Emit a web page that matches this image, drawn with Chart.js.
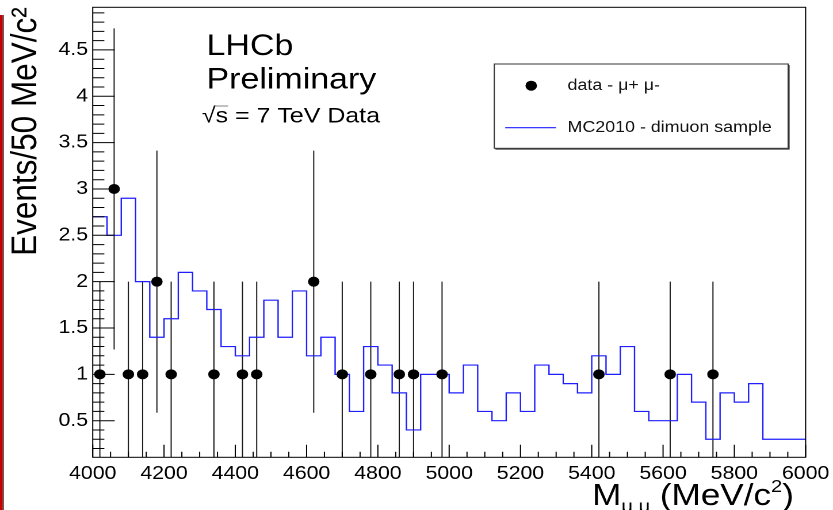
<!DOCTYPE html>
<html><head><meta charset="utf-8">
<script src="https://cdn.jsdelivr.net/npm/chart.js@4.4.0/dist/chart.umd.min.js"></script>
<style>
html,body{margin:0;padding:0;background:#fff;overflow:hidden;width:833px;height:510px;}
#wrap{position:absolute;left:0;top:0;width:724px;height:510px;transform:scaleX(1.150552);transform-origin:0 0;}
</style></head><body>
<div id="wrap"><canvas id="c"></canvas></div>
<script>
// ---- data ----
const binStart = 4000;
const binWidth = 40;
const mcValues = [2.7,2.5,2.9,2.0,1.4,1.6,2.1,1.9,1.7,1.3,
                  1.2,1.4,1.8,1.4,1.9,1.2,1.4,1.0,0.6,1.3,
                  1.1,0.8,0.4,1.0,1.0,0.8,1.1,0.6,0.5,0.8,
                  0.6,1.1,1.0,0.9,0.8,1.2,1.0,1.3,0.6,0.5,
                  0.5,1.0,0.7,0.3,0.8,0.7,0.9,0.3,0.3,0.3];
const dataMass   = [4020,4060,4100,4140,4180,4220,4340,4420,4460,4620,4700,4780,4860,4900,4980,5420,5620,5740];
const dataEvents = [1,3,1,1,2,1,1,1,1,2,1,1,1,1,1,1,1,1];
const dataErr    = [1,1.732,1,1,1.414,1,1,1,1,1.414,1,1,1,1,1,1,1,1];
const xTickValues = [4000,4200,4400,4600,4800,5000,5200,5400,5600,5800,6000];
const xTickLabels = ['4000','4200','4400','4600','4800','5000','5200','5400','5600','5800','6000'];
const yTickValues = [0.5,1,1.5,2,2.5,3,3.5,4,4.5];
const yTickLabels = ['0.5','1','1.5','2','2.5','3','3.5','4','4.5'];
const xRange = [4000, 6000];
const yRange = [0.105, 4.96];
const seriesLabels = ['data - \u03bc+ \u03bc-', 'MC2010 - dimuon sample'];

// ---- build ----
const mcEdges = mcValues.map((v,i)=>binStart + i*binWidth).concat([binStart + mcValues.length*binWidth]);
const mcPoints = mcEdges.map((x,i)=>({x:x, y:mcValues[Math.min(i, mcValues.length-1)]}));
const dataPoints = dataMass.map((m,i)=>({x:m, y:dataEvents[i]}));

const FONT = "'Liberation Sans', Arial, Helvetica, sans-serif";

const rootPlugin = {
  id:'rootStyle',
  beforeDatasetsDraw(chart){
    const ctx = chart.ctx, a = chart.chartArea, xs = chart.scales.x, ys = chart.scales.y;
    ctx.save();
    ctx.beginPath(); ctx.rect(a.left, a.top, a.right-a.left, a.bottom-a.top); ctx.clip();
    ctx.strokeStyle = '#1a1a1a'; ctx.lineWidth = 1;
    dataMass.forEach((m,i)=>{
      const px = xs.getPixelForValue(m);
      const y1 = ys.getPixelForValue(dataEvents[i]+dataErr[i]);
      const y0 = ys.getPixelForValue(Math.max(dataEvents[i]-dataErr[i], yRange[0]));
      ctx.beginPath(); ctx.moveTo(px, y0); ctx.lineTo(px, y1); ctx.stroke();
    });
    ctx.restore();
  },
  afterDraw(chart){
    const ctx = chart.ctx, a = chart.chartArea, xs = chart.scales.x, ys = chart.scales.y;
    ctx.save();
    // red strip at left edge
    ctx.fillStyle = '#c80000'; ctx.fillRect(0, 15, 2.3, 495);
    ctx.fillStyle = '#2a0000'; ctx.fillRect(2.3, 15, 0.9, 495);
    // frame
    ctx.strokeStyle = '#000'; ctx.lineWidth = 1;
    ctx.strokeRect(a.left, a.top, a.right-a.left, a.bottom-a.top);
    // y ticks (inside)
    ctx.beginPath();
    for (let k=1; k<50; k++){
      const v = k/10;
      if (v < yRange[0] || v > yRange[1]) continue;
      const py = ys.getPixelForValue(v);
      const len = (k%5===0) ? 19.1 : 10.1;
      ctx.moveTo(a.left, py); ctx.lineTo(a.left+len, py);
    }
    // x ticks (inside)
    for (let m=xRange[0]; m<=xRange[1]; m+=50){
      const px = xs.getPixelForValue(m);
      const len = ((m-xRange[0])%200===0) ? 12.5 : 5.5;
      ctx.moveTo(px, a.bottom); ctx.lineTo(px, a.bottom-len);
    }
    ctx.stroke();

    // texts
    ctx.fillStyle = '#000';
    ctx.textBaseline = 'alphabetic'; ctx.textAlign = 'left';
    ctx.font = "29.5px " + FONT;
    ctx.fillText('LHCb', 179.5, 55);
    ctx.fillText('Preliminary', 179.5, 88.3);
    ctx.font = "21.7px " + FONT;
    const sq = '\u221A';
    ctx.fillText(sq, 175.5, 122.5);
    const sqW = ctx.measureText(sq).width;
    const sW = ctx.measureText('s').width;
    ctx.fillText('s = 7 TeV Data', 175.5+sqW, 122.5);
    ctx.lineWidth = 0.8; ctx.strokeStyle = '#666';
    ctx.beginPath(); ctx.moveTo(175.5+sqW-1, 106); ctx.lineTo(175.5+sqW+sW, 106); ctx.stroke();

    // x axis title with sub/superscripts
    const big = "30.5px " + FONT, small = "17.5px " + FONT;
    const parts = [
      {t:'M', f:big, dy:0},
      {t:'\u03bc \u03bc', f:small, dy:7},
      {t:' (MeV/c', f:big, dy:0},
      {t:'2', f:small, dy:-13},
      {t:')', f:big, dy:0}
    ];
    let total = 0;
    parts.forEach(p=>{ ctx.font = p.f; p.w = ctx.measureText(p.t).width; total += p.w; });
    let x = 690 - total;
    const base = 505;
    parts.forEach(p=>{ ctx.font = p.f; ctx.fillText(p.t, x, base + p.dy); x += p.w; });

    // legend
    const lx = 429.6, ly = 64, lw = 255.4, lh = 84.3;
    ctx.fillStyle = '#fff'; ctx.fillRect(lx, ly, lw, lh);
    ctx.strokeStyle = '#333'; ctx.lineWidth = 1;
    ctx.strokeRect(lx, ly, lw, lh);
    ctx.beginPath(); ctx.moveTo(lx+lw+0.8, ly+1); ctx.lineTo(lx+lw+0.8, ly+lh+0.8); ctx.lineTo(lx+1, ly+lh+0.8); ctx.stroke();
    const dsData = chart.data.datasets[0], dsMC = chart.data.datasets[1];
    ctx.fillStyle = dsData.backgroundColor;
    ctx.beginPath(); ctx.arc(461.7, 85.7, 5, 0, Math.PI*2); ctx.fill();
    ctx.strokeStyle = dsMC.borderColor; ctx.lineWidth = 1.2;
    ctx.beginPath(); ctx.moveTo(439.1, 127.7); ctx.lineTo(483.2, 127.7); ctx.stroke();
    ctx.fillStyle = '#111'; ctx.font = "15.5px " + FONT; ctx.textBaseline = 'middle';
    ctx.fillText(dsData.label, 493.3, 85.5);
    ctx.fillText(dsMC.label, 493.3, 127.7);
    ctx.restore();
  }
};

new Chart(document.getElementById('c'), {
  data: {
    datasets: [
      { type:'scatter', label: seriesLabels[0], data: dataPoints, pointRadius:5, pointHoverRadius:5,
        backgroundColor:'#000', borderWidth:0, order:0 },
      { type:'line', label: seriesLabels[1], data: mcPoints, stepped:'before', borderColor:'#1f1fff',
        borderWidth:1.2, pointRadius:0, fill:false, order:1 }
    ]
  },
  options: {
    responsive:true, maintainAspectRatio:false, animation:false, devicePixelRatio:2,
    layout:{ padding:{ left:0, right:23.8, top:7.3, bottom:0 } },
    plugins:{ legend:{display:false}, tooltip:{enabled:false} },
    scales:{
      x:{ type:'linear', min:xRange[0], max:xRange[1],
          grid:{display:false, drawTicks:false}, border:{display:false},
          ticks:{ color:'#000', font:{family:FONT, size:18.5, lineHeight:1.2}, padding:5.5, maxRotation:0, autoSkip:false,
                  callback:(v)=>{ const i = xTickValues.indexOf(v); return i>=0 ? xTickLabels[i] : ''; } },
          afterBuildTicks:(s)=>{ s.ticks = xTickValues.map(v=>({value:v})); },
          afterFit:(s)=>{ s.height = 52.7; s.paddingLeft = 0; s.paddingRight = 0; }
      },
      y:{ type:'linear', min:yRange[0], max:yRange[1],
          grid:{display:false, drawTicks:false}, border:{display:false},
          ticks:{ color:'#000', font:{family:FONT, size:18.5, lineHeight:0.7}, padding:4, autoSkip:false,
                  callback:(v)=>{ const i = yTickValues.indexOf(v); return i>=0 ? yTickLabels[i] : ''; } },
          afterBuildTicks:(s)=>{ s.ticks = yTickValues.map(v=>({value:v})); },
          title:{ display:true, text:'Events/50 MeV/c\u00B2', align:'end', color:'#000',
                  font:{family:FONT, size:31.5, lineHeight:1.2}, padding:{top:3.8, bottom:0} },
          afterFit:(s)=>{ s.width = 80.6; s.paddingTop = 0; s.paddingBottom = 0; }
      }
    }
  },
  plugins:[rootPlugin]
});
</script>
</body></html>
